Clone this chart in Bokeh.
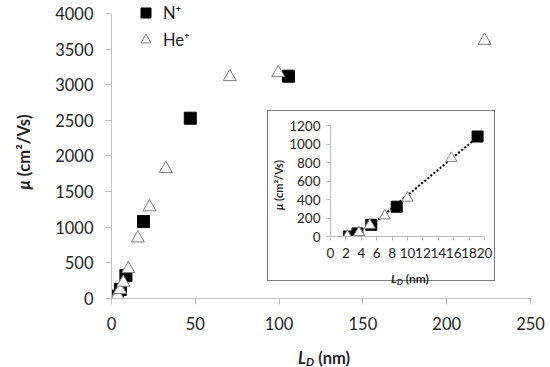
from bokeh.plotting import figure
from bokeh.models import Range1d, FixedTicker, Legend, LegendItem, Div
from bokeh.layouts import column
from bokeh.embed import file_html
from bokeh.resources import INLINE

# ---- data ----
n_x = [2.4, 3.5, 5.3, 8.6, 19.1, 47.0, 105.6]
n_y = [0, 33, 127, 322, 1081, 2530, 3120]
he_x = [2.2, 3.7, 5.1, 7.05, 10.0, 15.7, 22.7, 32.4, 70.6, 99.5, 222.6]
he_y = [5, 43, 123, 224, 416, 846, 1283, 1820, 3110, 3166, 3620]
trend_x = [5.0, 19.1]
trend_y = [100, 1075]
main_xticks = [0, 50, 100, 150, 200, 250]
main_yticks = [0, 500, 1000, 1500, 2000, 2500, 3000, 3500, 4000]
inset_xticks = [0, 2, 4, 6, 8, 10, 12, 14, 16, 18, 20]
inset_yticks = [0, 200, 400, 600, 800, 1000, 1200]
series_labels = ["N⁺", "He⁺"]

FONT = "Lato"
TXT = "#1f1f1f"
AX = "#bfbfbf"


def style_axes(fig, xticks, yticks, size, xstand, ystand, tick_out):
    fig.xaxis.ticker = FixedTicker(ticks=xticks)
    fig.yaxis.ticker = FixedTicker(ticks=yticks)
    for ax in (fig.xaxis[0], fig.yaxis[0]):
        ax.axis_label = None
        ax.axis_line_color = AX
        ax.major_tick_line_color = AX
        ax.minor_tick_line_color = None
        ax.major_tick_in = 0
        ax.major_tick_out = tick_out
        ax.major_label_text_font = FONT
        ax.major_label_text_font_size = size
        ax.major_label_text_color = TXT
    fig.xaxis.major_label_standoff = xstand
    fig.yaxis.major_label_standoff = ystand
    fig.xaxis.bounds = (xticks[0], xticks[-1])
    fig.yaxis.bounds = (yticks[0], yticks[-1])
    fig.grid.visible = False
    fig.outline_line_color = None
    fig.frame_align = False


def text_div(html, left, top, w, h, size, rotate=False):
    st = {"position": "absolute", "left": f"{left}px", "top": f"{top}px",
          "font-family": FONT, "font-size": size, "font-weight": "bold",
          "color": TXT, "white-space": "nowrap", "line-height": f"{h}px",
          "text-align": "center"}
    if rotate:
        st["transform"] = "rotate(-90deg)"
        st["transform-origin"] = "center center"
    return Div(text=html, width=w, height=h, styles=st)


MU = "<i>μ</i> (cm²/Vs)"
LD = ("<i>L</i><sub style='font-size:0.7em;vertical-align:-0.2em;line-height:0'><i>D</i></sub>"
      " (nm)")

# ---- main figure ----
# frame spans the full canvas height so the legend is not clipped; the axis stops at 4000
p = figure(width=550, height=367, x_range=Range1d(0, 250), y_range=Range1d(0, 4182),
           output_backend="svg", toolbar_location=None,
           min_border_left=111, min_border_right=20, min_border_top=0, min_border_bottom=69)
style_axes(p, main_xticks, main_yticks, "16.5px", 12, 12, 6)

r_n = p.scatter(n_x, n_y, marker="square", size=12, fill_color="black", line_color="black")
r_he = p.scatter(he_x, he_y, marker="triangle", size=13, fill_color="white",
                 line_color="#7f7f7f", line_width=1)

legend = Legend(items=[LegendItem(label=series_labels[0], renderers=[r_n]),
                       LegendItem(label=series_labels[1], renderers=[r_he])],
                location=(22, 246), border_line_color=None, background_fill_alpha=0,
                padding=0, margin=0, spacing=2, glyph_width=25, glyph_height=25,
                label_standoff=5, label_text_font=FONT, label_text_font_size="16.5px",
                label_text_color=TXT)
p.add_layout(legend)

# ---- inset figure ----
q = figure(width=228, height=171, x_range=Range1d(0, 20), y_range=Range1d(0, 1200),
           output_backend="svg", toolbar_location=None, title=None,
           min_border_left=62, min_border_right=12, min_border_top=14, min_border_bottom=46)
style_axes(q, inset_xticks, inset_yticks, "13.5px", 7, 6, 4)
q.line(trend_x, trend_y, line_color="black", line_width=2, line_dash="2 2")
q.scatter(n_x, n_y, marker="square", size=11, fill_color="black", line_color="black")
q.scatter(he_x, he_y, marker="triangle", size=11, fill_color="white",
          line_color="#7f7f7f", line_width=1)
q.styles = {"position": "absolute", "left": "267px", "top": "110px",
            "border": "1px solid #7f7f7f", "background-color": "white"}

# ---- axis titles (mixed italic / subscript) ----
main_y = text_div(MU, -31, 136, 100, 22, "16.5px", rotate=True)
main_x = text_div(LD, 269, 342, 100, 22, "16.5px")
ins_y = text_div(MU, 239, 173, 70, 14, "11px", rotate=True)
ins_x = text_div(LD, 370, 266, 70, 16, "12px")

layout = column(p, q, main_y, main_x, ins_y, ins_x, styles={"position": "relative"})

open("out.html", "w").write(file_html(layout, INLINE))
